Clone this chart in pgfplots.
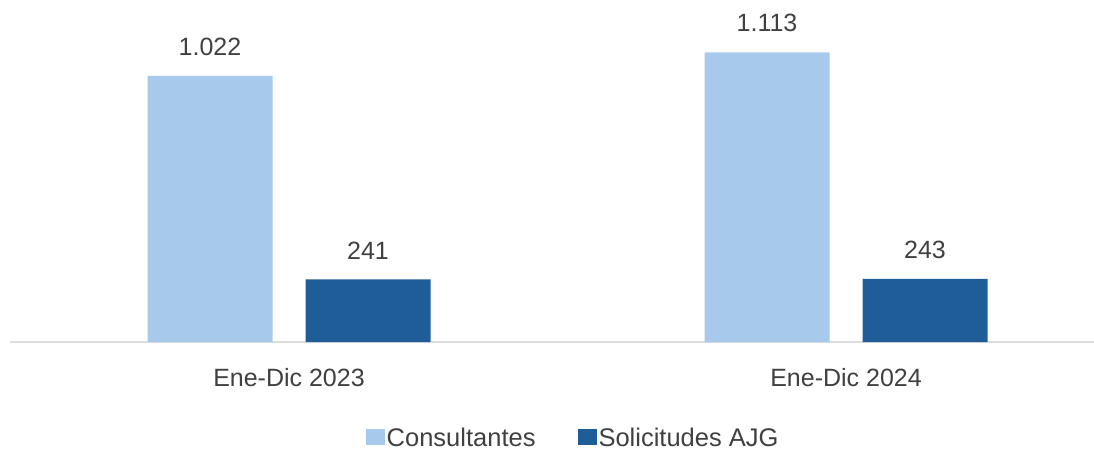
\documentclass[border=0pt]{standalone}
\usepackage{pgfplots}
\pgfplotsset{compat=1.18}
\usepackage{fontspec}
\setmainfont{Liberation Sans}
\definecolor{lblue}{HTML}{A7C9EB}
\definecolor{dblue}{HTML}{1F5D99}
\definecolor{txt}{HTML}{404040}
\definecolor{axgray}{HTML}{DDDDDD}
\begin{document}
\begin{tikzpicture}
\useasboundingbox (-10pt,-111pt) rectangle (1084pt,342pt);
\begin{axis}[
  at={(0pt,0pt)}, anchor=south west,
  scale only axis,
  width=1084pt, height=342pt,
  xmin=-0.5009, xmax=1.4452,
  ymin=0, ymax=1314,
  axis x line*=bottom,
  axis y line=none,
  x axis line style={axgray, line width=2pt, -},
  xtick={0,1},
  xticklabels={Ene-Dic 2023, Ene-Dic 2024},
  major tick length=0pt,
  xticklabel style={font=\fontsize{25}{29}\selectfont, text=txt, anchor=center, yshift=-36pt},
  ybar, bar width=125pt,
  nodes near coords,
  /pgf/number format/.cd, 1000 sep={.}, assume math mode=true,
  /pgfplots/.cd,
  every node near coord/.append style={font=\fontsize{25}{29}\selectfont, text=txt, anchor=center, yshift=29pt},
  legend columns=2,
  legend style={at={(axis description cs:0.5195,0)}, anchor=center, yshift=-96pt, draw=none, fill=none,
    font=\fontsize{25.5}{29}\selectfont, text=txt,
    /tikz/every even column/.append style={column sep=40pt}},
  legend image code/.code={\fill[#1] (0pt,-7pt) rectangle (19pt,9pt);},
  clip=false,
]
\addplot[fill=lblue, draw=none, bar shift=-79pt] coordinates {(0,1022) (1,1113)};
\addplot[fill=dblue, draw=none, bar shift=79pt] coordinates {(0,241) (1,243)};
\legend{Consultantes, Solicitudes AJG}
\end{axis}
\end{tikzpicture}
\end{document}
